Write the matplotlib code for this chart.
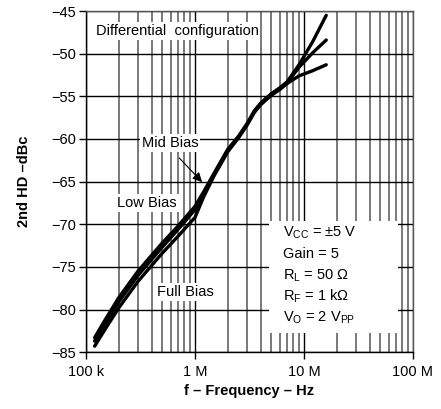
import matplotlib
matplotlib.use("Agg")
import matplotlib.pyplot as plt
from matplotlib.patches import Rectangle
from matplotlib.ticker import FixedLocator, LogLocator, NullFormatter

plt.rcParams['font.family'] = ['Liberation Sans', 'DejaVu Sans']
plt.rcParams['mathtext.fontset'] = 'custom'
plt.rcParams['mathtext.rm'] = 'Liberation Sans'
plt.rcParams['mathtext.it'] = 'Liberation Sans'

freq = [120e3, 150e3, 200e3, 300e3, 500e3, 700e3, 1e6, 1.2e6, 1.5e6, 2e6, 2.5e6,
        3e6, 3.5e6, 4e6, 4.5e6, 5e6, 6e6, 7e6, 9e6, 12e6, 16e6]
low_bias = [-83.3, -81.2, -78.6, -75.5, -72.2, -70.2, -67.9, -66.2, -64.0, -61.2, -59.7,
            -58.2, -56.7, -55.8, -55.2, -54.7, -54.0, -53.3, -51.3, -48.6, -45.5]
mid_bias = [-83.7, -81.7, -79.1, -76.0, -72.7, -70.6, -68.3, -66.4, -64.1, -61.3, -59.8,
            -58.3, -56.8, -55.9, -55.3, -54.8, -54.1, -53.4, -51.6, -49.9, -48.4]
full_bias = [-84.3, -82.3, -79.8, -76.7, -73.4, -71.4, -69.2, -66.8, -64.3, -61.5, -59.9,
             -58.4, -56.9, -56.0, -55.4, -54.9, -54.2, -53.5, -52.6, -52.0, -51.3]

xticks = [1e5, 1e6, 1e7, 1e8]
xticklabels = ['100 k', '1 M', '10 M', '100 M']
yticks = [-85, -80, -75, -70, -65, -60, -55, -50, -45]
params = [r'V$_\mathrm{CC}$ = ±5 V', 'Gain = 5', r'R$_\mathrm{L}$ = 50 Ω',
          r'R$_\mathrm{F}$ = 1 kΩ', r'V$_\mathrm{O}$ = 2 V$_\mathrm{PP}$']

FS = 10.5
fig = plt.figure(figsize=(4.41, 4.09), dpi=100)
ax = fig.add_axes([0.195, 0.139, 0.7415, 0.834])
ax.set_xscale('log')
ax.set_xlim(1e5, 1e8)
ax.set_ylim(-85, -45)

ax.xaxis.set_major_locator(FixedLocator(xticks))
ax.set_xticklabels(xticklabels)
ax.xaxis.set_minor_locator(LogLocator(base=10, subs=range(2, 10), numticks=20))
ax.xaxis.set_minor_formatter(NullFormatter())
ax.set_yticks(yticks)
ax.set_yticklabels(['\u2212%d' % abs(v) for v in yticks])

ax.grid(which='major', axis='both', color='black', lw=1.0, zorder=0)
ax.grid(which='minor', axis='x', color='#555555', lw=1.1, zorder=0)
ax.tick_params(which='major', direction='out', length=5, width=1, labelsize=FS, pad=2)
ax.tick_params(axis='x', which='major', pad=4)
ax.tick_params(which='minor', length=0)
for s in ax.spines.values():
    s.set_linewidth(1.0)
ax.spines['right'].set_color('#555555')
ax.spines['top'].set_color('#555555')

for y in (low_bias, mid_bias, full_bias):
    ax.plot(freq, y, color='black', lw=2.4, zorder=5, solid_capstyle='round',
            solid_joinstyle='round')

ax.set_xlabel('f \u2013 Frequency \u2013 Hz', fontsize=FS, fontweight='bold', labelpad=4)
ax.set_ylabel('2nd HD \u2013dBc', fontsize=FS, fontweight='bold', labelpad=15)

box = dict(facecolor='white', edgecolor='none', pad=1.5)
ax.text(6.84e5, -47.35, 'Differential  configuration', fontsize=FS, ha='center',
        va='center', bbox=box, zorder=4)
ax.text(5.9e5, -60.5, 'Mid Bias', fontsize=FS, ha='center', va='center', bbox=box, zorder=4)
ax.text(3.63e5, -67.5, 'Low Bias', fontsize=FS, ha='center', va='center', bbox=box, zorder=4)
ax.text(8.1e5, -78.0, 'Full Bias', fontsize=FS, ha='center', va='center', bbox=box, zorder=4)
ax.annotate('', xy=(1.21e6, -65.3), xytext=(6.9e5, -62.0),
            arrowprops=dict(arrowstyle='-|>', color='black', lw=0.8,
                            mutation_scale=14), zorder=6)

ax.add_patch(Rectangle((4.78e6, -82.8), 7.28e7 - 4.78e6, 13.2, facecolor='white',
                       edgecolor='none', zorder=3))
for i, t in enumerate(params):
    ax.text(6.4e6, -71.0 - 2.5 * i, t, fontsize=FS, ha='left', va='center', zorder=4)

fig.savefig('out.png', dpi=100)
